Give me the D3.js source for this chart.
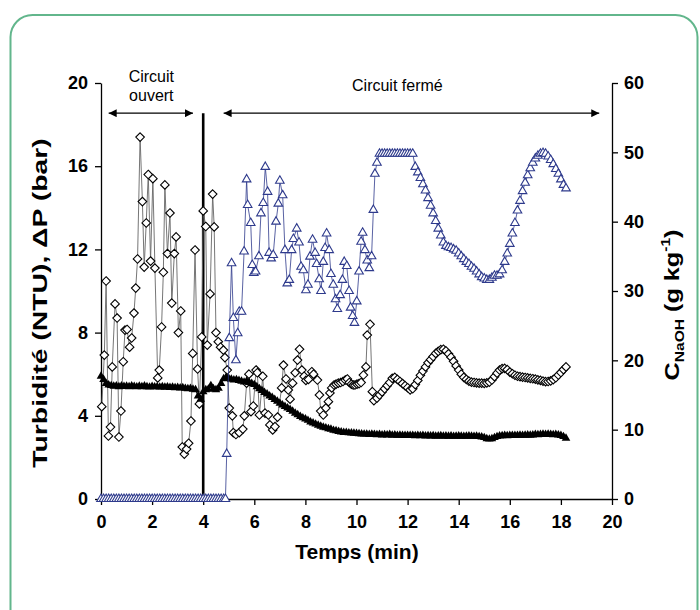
<!DOCTYPE html>
<html>
<head>
<meta charset="utf-8">
<script src="https://cdn.jsdelivr.net/npm/d3@7"></script>
<style>
  body { margin: 0; background: #fff; }
  svg { font-family: Arial, "Liberation Sans", sans-serif; }
</style>
</head>
<body>
<div id="chart"></div>
<script>
//turbidity (NTU), open diamonds, left axis - irregular sampling before 10.7 min
let turbTimes = [0.03, 0.13, 0.2, 0.29, 0.37, 0.44, 0.55, 0.63, 0.7, 0.78, 0.87, 0.94, 1.02, 1.12, 1.2, 1.29,
  1.36, 1.43, 1.53, 1.62, 1.69, 1.77, 1.85, 1.94, 2.03, 2.11, 2.22, 2.28, 2.37, 2.44, 2.5, 2.6, 2.7, 2.77,
  2.87, 2.94, 3.03, 3.12, 3.18, 3.26, 3.35, 3.43, 3.52, 3.59, 3.68, 3.78, 3.85, 3.94, 4.0, 4.1, 4.16, 4.27,
  4.37, 4.43, 4.5, 4.59, 4.68, 4.79, 4.85, 4.94, 5.02, 5.14, 5.18, 5.28, 5.41, 5.55, 5.61, 5.7, 5.79, 5.87,
  5.96, 6.07, 6.12, 6.2, 6.33, 6.42, 6.55, 6.61, 6.72, 6.81, 6.91, 7.07, 7.14, 7.24, 7.33, 7.4, 7.5, 7.6,
  7.69, 7.77, 7.86, 7.95, 8.02, 8.12, 8.25, 8.32, 8.47, 8.55, 8.6, 8.7, 8.8, 8.9, 8.96, 9.03, 9.12, 9.2,
  9.29, 9.38, 9.47, 9.56, 9.64, 9.72, 9.8, 9.87, 9.94, 10.02, 10.1, 10.18, 10.27, 10.37, 10.42, 10.53,
  10.62, 10.68];
let turbValues = [4.44, 6.92, 10.48, 3.03, 3.46, 6.35, 9.38, 8.7, 2.98, 4.23, 6.6, 8.12, 8.15, 7.3, 7.74, 8.94,
  10.14, 11.54, 17.4, 14.3, 11.15, 13.27, 15.6, 11.44, 15.4, 11.1, 5.82, 6.2, 8.27, 10.9, 15.1, 11.8, 13.75, 9.42,
  11.8, 12.6, 8.0, 9.04, 2.5, 2.16, 2.4, 2.68, 3.75, 7.0, 11.97, 6.25, 4.57, 7.79, 13.85, 13.1, 7.4, 9.86,
  14.66, 13.08, 8.0, 7.56, 7.3, 7.16, 6.8, 6.2, 4.37, 4.0, 3.19, 3.1, 3.19, 3.36, 4.0, 5.57, 6.0, 4.2,
  4.47, 6.2, 6.07, 4.04, 5.9, 4.13, 4.04, 3.56, 3.32, 3.48, 3.94, 5.34, 6.44, 5.77, 5.24, 4.8, 5.57, 6.07,
  6.68, 7.2, 6.2, 5.9, 5.7, 5.75, 6.12, 6.0, 5.72, 5.0, 4.23, 4.04, 4.37, 4.68, 5.1, 5.34, 5.48, 5.52,
  5.57, 5.6, 5.65, 5.72, 5.77, 5.6, 5.52, 5.48, 5.48, 5.52, 5.55, 5.6, 5.96, 6.35, 7.88, 8.4,
  5.16, 4.73];
//turbidity after 10.8 min, one reading every 0.1 min
let turbDenseStart = 10.8;
let turbDenseValues = [4.85, 5.0, 5.15, 5.3, 5.45, 5.6, 5.8, 5.85, 5.75, 5.65, 5.55, 5.45, 5.35, 5.25,
  5.3, 5.5, 5.7, 5.95, 6.15, 6.35, 6.55, 6.7, 6.85, 7.0, 7.1, 7.18, 7.2, 7.12, 6.98, 6.82, 6.62, 6.4,
  6.2, 6.0, 5.85, 5.75, 5.67, 5.62, 5.6, 5.58, 5.57, 5.57, 5.56, 5.58, 5.62, 5.72, 5.88, 6.05, 6.2,
  6.27, 6.28, 6.22, 6.1, 6.02, 5.95, 5.9, 5.88, 5.86, 5.84, 5.82, 5.8, 5.78, 5.76, 5.73, 5.7, 5.67,
  5.64, 5.65, 5.68, 5.74, 5.83, 5.96, 6.08, 6.22, 6.35];

//pressure drop (bar), filled triangles, left axis, one reading every 0.1 min from 0
let dpValues = [5.9, 5.75, 5.55, 5.48, 5.45, 5.42, 5.44, 5.4, 5.43, 5.41,
  5.42, 5.4, 5.44, 5.41, 5.39, 5.42, 5.4, 5.43, 5.4, 5.38,
  5.41, 5.39, 5.4, 5.38, 5.4, 5.37, 5.39, 5.36, 5.38, 5.35,
  5.36, 5.34, 5.35, 5.32, 5.3, 5.31, 5.28, 5.25, 4.95, 4.8,
  5.15, 5.25, 5.28, 5.45, 5.3, 5.25, 5.32, 5.55, 5.78, 5.85,
  5.8, 5.76, 5.72, 5.74, 5.7, 5.66, 5.62, 5.66, 5.6, 5.55,
  5.5, 5.4, 5.3, 5.22, 5.12, 5.05, 4.95, 4.88, 4.78, 4.7,
  4.6, 4.52, 4.45, 4.38, 4.3, 4.22, 4.12, 4.05, 3.97, 3.9,
  3.85, 3.78, 3.7, 3.65, 3.6, 3.55, 3.5, 3.45, 3.42, 3.38,
  3.35, 3.3, 3.28, 3.25, 3.22, 3.2, 3.2, 3.18, 3.17, 3.16,
  3.15, 3.14, 3.13, 3.12, 3.12, 3.1, 3.11, 3.1, 3.09, 3.1,
  3.08, 3.09, 3.08, 3.1, 3.07, 3.08, 3.06, 3.07, 3.06, 3.05,
  3.06, 3.05, 3.06, 3.04, 3.05, 3.04, 3.05, 3.03, 3.04, 3.03,
  3.04, 3.02, 3.03, 3.04, 3.02, 3.03, 3.02, 3.03, 3.01, 3.02,
  3.03, 3.02, 3.01, 3.02, 3.03, 3.02, 3.01, 3.02, 3.0, 2.98,
  2.95, 2.9, 2.88, 2.9, 2.95, 3.0, 3.03, 3.04, 3.05, 3.04,
  3.05, 3.06, 3.05, 3.06, 3.07, 3.06, 3.07, 3.08, 3.07, 3.08,
  3.1, 3.09, 3.1, 3.12, 3.1, 3.11, 3.1, 3.09, 3.1, 3.08,
  3.05, 3.0, 2.92];

//NaOH concentration (g/kg), open triangles, right axis
//open circuit: readings every 0.1 min from 0 to 4.8
let naohZeroValues = [0, 0, 0, 0, 0, 0, 0, 0, 0, 0, 0, 0, 0, 0, 0, 0, 0, 0, 0, 0, 0, 0, 0, 0, 0,
  0, 0, 0, 0, 0, 0, 0, 0, 0, 0, 0, 0, 0, 0, 0, 0, 0, 0, 0, 0, 0, 0, 0, 0];
let naohTimes = [4.87, 4.92, 5.02, 5.11, 5.18, 5.28, 5.35, 5.41, 5.5, 5.6, 5.7, 5.74, 5.86, 5.92, 5.98, 6.05,
  6.18, 6.26, 6.35, 6.43, 6.52, 6.58, 6.66, 6.74, 6.85, 6.94, 7.0, 7.11, 7.2, 7.29, 7.37, 7.46, 7.53,
  7.66, 7.75, 7.83, 7.92, 8.02, 8.1, 8.18, 8.28, 8.38, 8.44, 8.54, 8.61, 8.7, 8.77, 8.83, 8.93, 9.0,
  9.09, 9.18, 9.25, 9.36, 9.45, 9.52, 9.62, 9.71, 9.77, 9.85, 9.92, 10.01, 10.1, 10.18, 10.24, 10.33,
  10.42, 10.5, 10.59, 10.66, 10.72];
let naohValues = [0, 6.5, 23.2, 34.0, 26.1, 20.0, 23.9, 27.0, 27.0, 35.7, 46.1, 42.4, 39.8, 33.75, 32.6, 32.8,
  35.0, 41.2, 42.7, 47.9, 44.3, 35.5, 34.7, 35.2, 40.0, 42.6, 45.9, 43.8, 35.9, 31.1, 31.6, 35.9, 37.5,
  39.0, 37.0, 33.5, 33.0, 30.1, 30.9, 34.95, 37.4, 35.5, 33.9, 31.7, 30.0, 34.2, 36.2, 38.3, 35.9, 32.45,
  30.9, 28.8, 27.4, 29.4, 31.6, 34.2, 33.6, 30.0, 27.6, 26.4, 25.4, 28.5, 32.8, 37.1, 38.4, 35.9,
  34.4, 33.3, 35.0, 41.7, 46.9];
//closed circuit after 10.8 min, every 0.1 min
let naohDenseStart = 10.8;
let naohDenseValues = [48.5, 49.8, 49.8, 49.8, 49.8, 49.8, 49.8, 49.8, 49.8, 49.8, 49.8, 49.8, 49.8, 49.8,
  49.8, 47.9, 47.1, 46.3, 45.4, 44.5, 43.4, 42.3, 41.2, 40.1, 39.0, 38.0, 37.0, 36.5, 36.3, 36.2,
  36.0, 35.8, 35.4, 35.0, 34.6, 34.2, 33.9, 33.5, 33.2, 32.8, 32.4, 32.0, 31.8, 31.6, 31.6, 31.9,
  32.2, 32.2, 32.4, 33.0, 34.2, 35.4, 36.8, 38.3, 39.8, 41.6, 43.0, 44.4, 45.6, 46.7, 47.7, 48.5,
  49.1, 49.5, 49.8, 49.9, 49.8, 49.4, 48.9, 48.3, 47.6, 46.9, 46.1, 45.3, 44.8];

let sampleStep = 0.1;
let xTicks = [0, 2, 4, 6, 8, 10, 12, 14, 16, 18, 20];
let leftTicks = [0, 4, 8, 12, 16, 20];
let rightTicks = [0, 10, 20, 30, 40, 50, 60];

//build canvas
let svg = d3.select("#chart")
  .append("svg")
  .attr("width", 700)
  .attr("height", 610);

//green card frame, runs off the bottom of the picture
svg.append("rect")
  .attr("x", 10.5)
  .attr("y", 15)
  .attr("width", 687)
  .attr("height", 640)
  .attr("rx", 22)
  .attr("fill", "none")
  .attr("stroke", "#62b68c")
  .attr("stroke-width", 2);

let x = d3.scaleLinear().domain([0, 20]).range([101, 612]);
let yLeft = d3.scaleLinear().domain([0, 20]).range([499, 83]);
let yRight = d3.scaleLinear().domain([0, 60]).range([499, 83]);

//turn the arrays into point lists
let turbPoints = turbTimes.map((t, i) => [t, turbValues[i]]);
turbDenseValues.forEach((v, i) => turbPoints.push([turbDenseStart + i * sampleStep, v]));

let dpPoints = dpValues.map((v, i) => [i * sampleStep, v]);

let naohPoints = naohZeroValues.map((v, i) => [i * sampleStep, v]);
naohTimes.forEach((t, i) => naohPoints.push([t, naohValues[i]]));
naohDenseValues.forEach((v, i) => naohPoints.push([naohDenseStart + i * sampleStep, v]));

//axes
let xAxis = svg.append("g")
  .attr("transform", "translate(0,499)")
  .call(d3.axisBottom(x).tickValues(xTicks).tickSize(6).tickPadding(10).tickSizeOuter(0));

let leftAxis = svg.append("g")
  .attr("transform", "translate(101,0)")
  .call(d3.axisLeft(yLeft).tickValues(leftTicks).tickSize(6).tickPadding(7).tickSizeOuter(0));

let rightAxis = svg.append("g")
  .attr("transform", "translate(612,0)")
  .call(d3.axisRight(yRight).tickValues(rightTicks).tickSize(6).tickPadding(6).tickSizeOuter(0));

[xAxis, leftAxis, rightAxis].forEach(function(ax) {
  ax.select(".domain").attr("stroke", "#000").attr("stroke-width", 1.3);
  ax.selectAll(".tick line").attr("stroke", "#000").attr("stroke-width", 1.3);
  ax.selectAll(".tick text")
    .attr("fill", "#000")
    .style("font-size", "18px")
    .style("font-weight", "bold")
    .style("font-family", "Arial, 'Liberation Sans', sans-serif");
});

//axis titles (the source picture is stretched vertically, hence the scale)
svg.append("text")
  .attr("x", 357)
  .attr("y", 559)
  .attr("text-anchor", "middle")
  .style("font-size", "21px")
  .style("font-weight", "bold")
  .text("Temps (min)");

svg.append("text")
  .attr("transform", "translate(47,303) rotate(-90) scale(1.35,1)")
  .attr("text-anchor", "middle")
  .style("font-size", "21px")
  .style("font-weight", "bold")
  .text("Turbidité (NTU), ΔP (bar)");

let rightTitle = svg.append("text")
  .attr("transform", "translate(679,305) rotate(-90) scale(1.2,1)")
  .attr("text-anchor", "middle")
  .style("font-size", "21px")
  .style("font-weight", "bold");
rightTitle.append("tspan").text("C");
rightTitle.append("tspan").attr("dy", 5).style("font-size", "13px").text("NaOH");
rightTitle.append("tspan").attr("dy", -5).text(" (g kg");
rightTitle.append("tspan").attr("dy", -9).style("font-size", "13px").text("-1");
rightTitle.append("tspan").attr("dy", 9).text(")");

//annotations: open / closed circuit
svg.append("defs").append("marker")
  .attr("id", "arrowHead")
  .attr("viewBox", "0 0 10 10")
  .attr("refX", 10)
  .attr("refY", 5)
  .attr("markerWidth", 9)
  .attr("markerHeight", 8)
  .attr("markerUnits", "userSpaceOnUse")
  .attr("orient", "auto-start-reverse")
  .append("path")
  .attr("d", "M0,0 L10,5 L0,10 Z")
  .attr("fill", "#000");

let arrowY = yLeft(18.55);
[[0.3, 3.6], [4.8, 19.5]].forEach(function(span) {
  svg.append("line")
    .attr("x1", x(span[0]))
    .attr("x2", x(span[1]))
    .attr("y1", arrowY)
    .attr("y2", arrowY)
    .attr("stroke", "#000")
    .attr("stroke-width", 1.2)
    .attr("marker-start", "url(#arrowHead)")
    .attr("marker-end", "url(#arrowHead)");
});

svg.append("line")
  .attr("x1", x(4))
  .attr("x2", x(4))
  .attr("y1", arrowY)
  .attr("y2", yLeft(0))
  .attr("stroke", "#000")
  .attr("stroke-width", 2.6);

svg.append("text")
  .attr("x", x(1.97))
  .attr("y", 82)
  .attr("text-anchor", "middle")
  .style("font-size", "16px")
  .text("Circuit");
svg.append("text")
  .attr("x", x(1.97))
  .attr("y", 101)
  .attr("text-anchor", "middle")
  .style("font-size", "16px")
  .text("ouvert");
svg.append("text")
  .attr("x", x(11.6))
  .attr("y", 91)
  .attr("text-anchor", "middle")
  .style("font-size", "16px")
  .text("Circuit fermé");

//series
let turbLine = d3.line().x(d => x(d[0])).y(d => yLeft(d[1]));
let naohLine = d3.line().x(d => x(d[0])).y(d => yRight(d[1]));
let diamond = "M0,-4.3L4.3,0L0,4.3L-4.3,0Z";
let triangle = d3.symbol().type(d3.symbolTriangle).size(32);

svg.append("path")
  .attr("d", turbLine(turbPoints))
  .attr("fill", "none")
  .attr("stroke", "#666")
  .attr("stroke-width", 0.9);
svg.append("g").selectAll("path")
  .data(turbPoints)
  .join("path")
  .attr("transform", d => "translate(" + x(d[0]) + "," + yLeft(d[1]) + ")")
  .attr("d", diamond)
  .attr("fill", "#fff")
  .attr("stroke", "#000")
  .attr("stroke-width", 1.1);

svg.append("path")
  .attr("d", turbLine(dpPoints))
  .attr("fill", "none")
  .attr("stroke", "#000")
  .attr("stroke-width", 1);
svg.append("g").selectAll("path")
  .data(dpPoints)
  .join("path")
  .attr("transform", d => "translate(" + x(d[0]) + "," + yLeft(d[1]) + ")")
  .attr("d", triangle)
  .attr("fill", "#000");

svg.append("path")
  .attr("d", naohLine(naohPoints))
  .attr("fill", "none")
  .attr("stroke", "#2e3a8c")
  .attr("stroke-width", 0.8);
svg.append("g").selectAll("path")
  .data(naohPoints)
  .join("path")
  .attr("transform", d => "translate(" + x(d[0]) + "," + yRight(d[1]) + ")")
  .attr("d", triangle)
  .attr("fill", "#fff")
  .attr("stroke", "#2e3a8c")
  .attr("stroke-width", 1.1);
</script>
</body>
</html>
